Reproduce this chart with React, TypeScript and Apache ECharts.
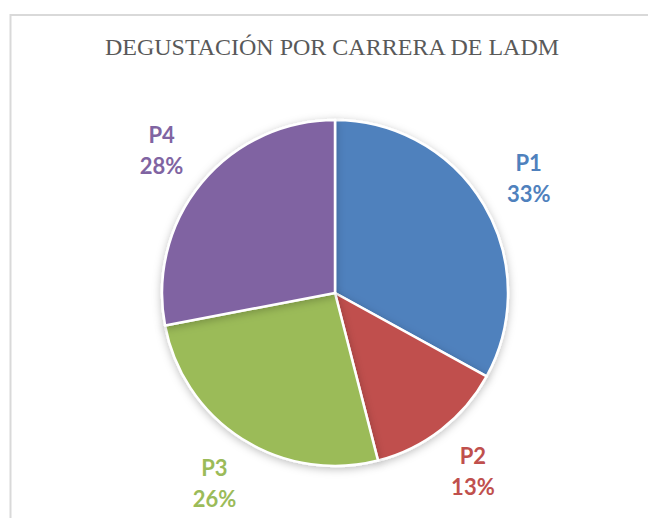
import React, { useEffect, useRef } from "react";
import * as echarts from "echarts";

const title = "DEGUSTACIÓN POR CARRERA DE LADM";
const categories = ["P1", "P2", "P3", "P4"];
const values = [33, 13, 26, 28];
const colors = ["#4F81BD", "#C0504D", "#9BBB59", "#8064A2"];

const CX = 335;
const CY = 293;
const R = 173;
const LABEL_R = 225;

export default function App() {
  const ref = useRef<HTMLDivElement>(null);
  useEffect(() => {
    if (!ref.current) return;
    const chart = echarts.init(ref.current, null, { renderer: "svg" });
    const total = values.reduce((a, b) => a + b, 0);
    const midFrac = values.map((v, i) => {
      const before = values.slice(0, i).reduce((a, b) => a + b, 0);
      return (before + v / 2) / total;
    });
    chart.setOption({
      animation: false,
      backgroundColor: "#ffffff",
      graphic: [
        {
          type: "rect",
          shape: { x: 10.5, y: 15, width: 900, height: 900 },
          style: { fill: "none", stroke: "#d9d9d9", lineWidth: 2 },
          silent: true,
        },
        {
          type: "text",
          x: 332,
          y: 47,
          style: {
            text: title,
            font: '24px "Liberation Serif", "Times New Roman", serif',
            fill: "#595959",
            align: "center",
            verticalAlign: "middle",
          },
        },
      ],
      series: [
        {
          type: "pie",
          center: [CX, CY],
          radius: R,
          startAngle: 90,
          clockwise: true,
          avoidLabelOverlap: false,
          itemStyle: {
            borderColor: "#ffffff",
            borderWidth: 2.5,
            shadowBlur: 8,
            shadowOffsetY: 2,
            shadowColor: "rgba(0,0,0,0.25)",
          },
          label: {
            show: true,
            position: "outside",
            formatter: (p: any) => `${p.name}\n${p.value}%`,
            fontFamily: "Lato",
            fontWeight: "bold",
            fontSize: 22,
            lineHeight: 31,
          },
          labelLine: { show: false },
          labelLayout: (params: any) => {
            const a = midFrac[params.dataIndex] * 2 * Math.PI;
            return {
              x: CX + LABEL_R * Math.sin(a),
              y: CY - LABEL_R * Math.cos(a),
              align: "center",
              verticalAlign: "middle",
            };
          },
          data: categories.map((c, i) => ({
            name: c,
            value: values[i],
            itemStyle: { color: colors[i] },
            label: { color: colors[i] },
          })),
        },
      ],
    });
    return () => chart.dispose();
  }, []);
  return (
    <div
      ref={ref}
      style={{ position: "fixed", left: 0, top: 0, width: 648, height: 518 }}
    />
  );
}
